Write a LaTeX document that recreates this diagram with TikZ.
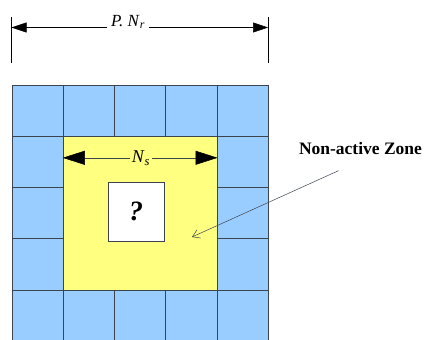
\documentclass[tikz,border=0pt]{standalone}
\usepackage{fontspec}
\setmainfont{Liberation Serif}
\usetikzlibrary{positioning,arrows.meta,calc}
\definecolor{cellblue}{HTML}{99CCFF}
\definecolor{zoneyellow}{HTML}{FFFF80}
\definecolor{gridline}{HTML}{3C4450}
\tikzset{
cell/.style={
draw=gridline,
fill=cellblue,
line width=0.8pt,
minimum size=51.3pt,
inner sep=0pt,
anchor=north west
},
zone/.style={
draw=gridline,
fill=zoneyellow,
line width=0.8pt,
minimum size=153.9pt,
inner sep=0pt,
anchor=north west
},
unknown/.style={
draw=gridline,
fill=white,
line width=0.6pt,
minimum width=56pt,
minimum height=59pt,
font=\fontsize{28}{30}\selectfont\bfseries\itshape
},
dimlabel/.style={
inner sep=2pt
},
bigarrow/.style={
{Triangle[length=22pt,width=14pt,color=black]}-{Triangle[length=22pt,width=14pt,color=black]},
line width=0.5pt,
draw=gridline
},
toparrow/.style={
{Triangle[length=15pt,width=10pt]}-{Triangle[length=15pt,width=10pt]},
line width=0.5pt
},
leader/.style={
-{Straight Barb[length=7pt,width=9pt]},
line width=0.5pt,
draw=gridline
}
}
\begin{document}
\begin{tikzpicture}[x=1pt,y=-1pt]
\clip (0,0) rectangle (424,340);
\fill[white] (0,0) rectangle (424,340);

% outer ring of cells
\foreach \i in {0,...,4}
\foreach \j in {0,...,4}
\node[cell](c\i\j) at ({11.5+51.3*\i},{84.5+51.3*\j}) {};

% inner zone and unknown cell
\node[zone](zone) at (c11.north west) {};
\node[unknown](q) at (136,211.5) {?};

% N_s dimension
\coordinate (nsl) at ($(zone.north west)+(0,22)$);
\coordinate (nsr) at ($(zone.north east)+(0,22)$);
\draw[bigarrow](nsl)--(nsr);
\node[dimlabel,fill=zoneyellow,font=\fontsize{18}{20}\selectfont](ns) at (141,158) {\textit{N}\textsubscript{\textit{s}}};

% P.N_r dimension
\coordinate (pl) at (11.5,27.5);
\coordinate (pr) at (268,27.5);
\draw[line width=0.5pt](11.5,17)--(11.5,63);
\draw[line width=0.5pt](268,17)--(268,63);
\draw[toparrow](pl)--(pr);
\node[dimlabel,fill=white,inner xsep=4pt,font=\fontsize{17}{19}\selectfont](pnr) at (128,22) {\textit{P. N}\textsubscript{\textit{r}}};

% non-active zone label
\node[font=\fontsize{17.5}{20}\selectfont\bfseries](nonactive) at (360.5,149) {Non-active Zone};
\coordinate (tip) at (192,237);
\draw[leader]($(nonactive.south)+(-22,12)$)--(tip);
\end{tikzpicture}
\end{document}
